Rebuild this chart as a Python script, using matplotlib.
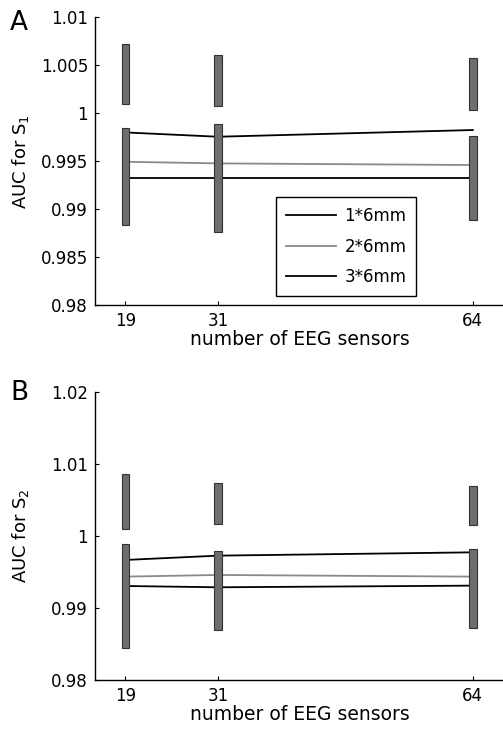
import numpy as np
import matplotlib
matplotlib.use('Agg')
from matplotlib import pyplot as plt

plt.rcParams['font.family'] = ['DejaVu Sans']
plt.rcParams['mathtext.default'] = 'regular'

#################### DATA ####################################################################
sensors = [19, 31, 64]
legend_labels = ['1*6mm', '2*6mm', '3*6mm']
line_colors = ['black', '#8a8a8a', 'black']

# panel A (S1)
s1_lines = [[0.9980, 0.99755, 0.99825],
            [0.99494, 0.99477, 0.9946],
            [0.99328, 0.99328, 0.99328]]
s1_upper_lo = [1.0010, 1.0008, 1.0003]
s1_upper_hi = [1.0072, 1.0061, 1.0058]
s1_lower_lo = [0.9883, 0.9876, 0.9889]
s1_lower_hi = [0.9985, 0.9989, 0.9976]
s1_yticks = [0.98, 0.985, 0.99, 0.995, 1.0, 1.005, 1.01]
s1_yticklabels = ['0.98', '0.985', '0.99', '0.995', '1', '1.005', '1.01']

# panel B (S2)
s2_lines = [[0.99665, 0.99725, 0.99771],
            [0.99434, 0.99457, 0.99434],
            [0.99304, 0.99286, 0.99309]]
s2_upper_lo = [1.0009, 1.0016, 1.0015]
s2_upper_hi = [1.0086, 1.0073, 1.0069]
s2_lower_lo = [0.9845, 0.9869, 0.9872]
s2_lower_hi = [0.9989, 0.9979, 0.9982]
s2_yticks = [0.98, 0.99, 1.0, 1.01, 1.02]
s2_yticklabels = ['0.98', '0.99', '1', '1.01', '1.02']

###############################################################################################

def draw_panel(ax, lines, up_lo, up_hi, lo_lo, lo_hi, yticks, yticklabels, ylabel, with_legend):
    for vals, col, lab in zip(lines, line_colors, legend_labels):
        ax.plot(sensors, vals, color=col, lw=1.3, label=lab, zorder=2)
    # thick grey bars (spread of AUC)
    for lo, hi in ((up_lo, up_hi), (lo_lo, lo_hi)):
        h = np.array(hi) - np.array(lo)
        ax.bar(sensors, h, bottom=lo, width=0.95, color='#6e6e6e',
               edgecolor='#333333', linewidth=0.8, zorder=3)
    ax.set_xlim(15.1, 67.9)
    ax.set_ylim(yticks[0], yticks[-1])
    ax.set_xticks(sensors)
    ax.set_yticks(yticks)
    ax.set_yticklabels(yticklabels)
    ax.tick_params(direction='in', length=3, width=0.8, labelsize=12, pad=5)
    for s in ('top', 'right'):
        ax.spines[s].set_visible(False)
    for s in ('left', 'bottom'):
        ax.spines[s].set_linewidth(1.0)
    ax.set_xlabel('number of EEG sensors', fontsize=13.5)
    ax.xaxis.set_label_coords(0.502, -0.087)
    ax.set_ylabel(ylabel, fontsize=13)
    ax.yaxis.set_label_coords(-0.158, 0.5)
    if with_legend:
        leg = ax.legend(loc='lower left', bbox_to_anchor=(0.4436, 0.031), borderaxespad=0,
                        fontsize=12, fancybox=False, edgecolor='black', framealpha=1,
                        handlelength=3.0, handletextpad=0.5, labelspacing=0.75,
                        borderpad=0.6)
        leg.get_frame().set_linewidth(1.0)


fig = plt.figure(figsize=(5.03, 7.30), dpi=100)
axA = fig.add_axes([0.189, 0.5822, 0.811, 0.394])
axB = fig.add_axes([0.189, 0.0685, 0.811, 0.395])

draw_panel(axA, s1_lines, s1_upper_lo, s1_upper_hi, s1_lower_lo, s1_lower_hi,
           s1_yticks, s1_yticklabels, 'AUC for S$_1$', True)
draw_panel(axB, s2_lines, s2_upper_lo, s2_upper_hi, s2_lower_lo, s2_lower_hi,
           s2_yticks, s2_yticklabels, 'AUC for S$_2$', False)

fig.text(0.038, 0.968, 'A', fontsize=19, ha='center', va='center')
fig.text(0.038, 0.4616, 'B', fontsize=19, ha='center', va='center')

fig.savefig('out.png', dpi=100)
